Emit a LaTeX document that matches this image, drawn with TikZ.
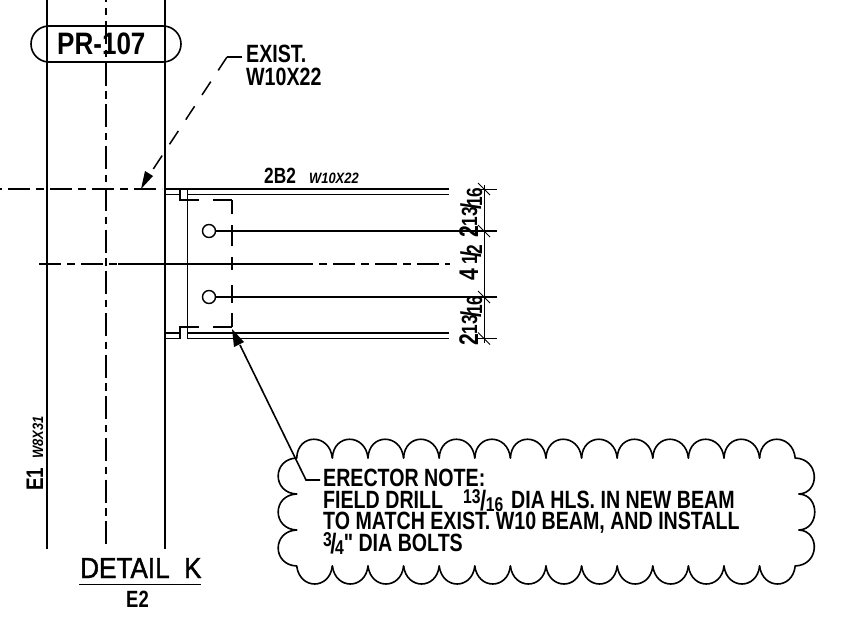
\documentclass[tikz,border=0pt]{standalone}
\usepackage{fontspec}
\usetikzlibrary{arrows.meta}
\newfontfamily\cad[FakeStretch=0.785]{Liberation Sans Bold}
\newfontfamily\cadheavy[FakeStretch=0.84]{Liberation Sans Bold}
\newfontfamily\cadlight[FakeStretch=0.9,FakeBold=1.5]{Liberation Sans}
\newfontfamily\caditalic[FakeStretch=0.86]{Liberation Sans Bold Italic}
\newcommand{\fracA}[6][-3pt]{{\fontsize{#4}{#4}\cad\raisebox{#5}{#2}\kern#1\raisebox{-2.5pt}{\fontsize{#4}{#4}\fontsize{28}{28}\cad/}\kern#1\raisebox{#6}{#3}}}
\tikzset{
  heavy/.style={line width=1.9pt,black},
  medium/.style={line width=1.6pt,black},
  thin/.style={line width=0.9pt,black},
  center/.style={line width=1.7pt,black,dash pattern=on 22pt off 6pt on 8pt off 6pt},
  lab/.style={inner sep=0pt,anchor=base west,font=\fontsize{25}{25}\cad},
  small/.style={inner sep=0pt,anchor=base west,font=\fontsize{15}{15}\caditalic},
  dimlab/.style={inner sep=0pt,anchor=base west,rotate=90,font=\fontsize{27}{27}\cad},
}
\begin{document}
\begin{tikzpicture}[x=1pt,y=-1pt]
\useasboundingbox (0,0) rectangle (849,634);
% column
\coordinate (c1t) at (47,0); \coordinate (c1b) at (47,549);
\coordinate (c2t) at (106,0); \coordinate (c2b) at (106,549);
\coordinate (c3t) at (165,0); \coordinate (c3b) at (165,549);
\draw[heavy] (c1t)--(c1b);
\draw[heavy] (c3t)--(c3b);
\draw[line width=2pt,dash pattern=on 23pt off 5.7pt on 7.3pt off 5.7pt,dash phase=20.7pt] (c2t)--(c2b);
% tag
\draw[medium] (49,26) -- (163,26) arc[start angle=90,end angle=-90,radius=18pt] -- (49,62) arc[start angle=270,end angle=90,radius=18pt] -- cycle;
\node[lab,font=\fontsize{31}{31}\cadheavy] (tag) at (57,55) {PR-107};
% beam centre lines
\draw[center,dash phase=34pt] (0,189) -- (162,189);
\draw[center] (39,264) -- (450,264);
\draw[line width=1.7pt] (118,264) -- (313,264);
% flanges
\draw[medium] (165,189)--(449,189);
\draw[medium] (165,194.5)--(180,194.5)--(180,200)--(187,200);
\draw[medium] (187,194.5)--(449,194.5);
\draw[medium] (180,189)--(180,194.5);
\draw[medium] (187.3,189)--(187.3,338.5);
\draw[medium] (165,333)--(180,333)--(180,327)--(187,327);
\draw[medium] (165,338.5)--(180,338.5)--(180,333);
\draw[medium] (187,333)--(449,333);
\draw[medium] (187,338.5)--(449,338.5);
% clip angle
\draw[line width=1.6pt,dash pattern=on 12pt off 14pt on 20pt off 5pt] (187,200)--(232,200);
\draw[line width=1.6pt,dash pattern=on 12pt off 14pt on 20pt off 5pt] (187,327)--(232,327);
\draw[line width=1.6pt,dash pattern=on 14pt off 11pt on 21pt off 11pt on 13pt off 15pt on 18pt off 10pt on 14pt off 5pt] (232,200)--(232,327);
% bolts
\node[circle,draw,line width=1.4pt,minimum size=13pt,inner sep=0pt] (b1) at (209,231) {};
\node[circle,draw,line width=1.4pt,minimum size=13pt,inner sep=0pt] (b2) at (209,297) {};
\coordinate (e1) at (497,231); \coordinate (e2) at (497,297);
\draw[heavy] (b1)--(e1);
\draw[heavy] (b2)--(e2);
% dimension
\draw[thin] (484,185)--(484,343);
\draw[thin] (477,189)--(497,189);
\draw[thin] (477,338.5)--(497,338.5);
\foreach \y in {189,231,297,338.5} \draw[thin] (478,\y-6)--(490,\y+6);
\node[dimlab] (d1) at (478,238) {2\fracA{13}{16}{22}{1pt}{-4pt}};
\node[dimlab] (d2) at (478,281) {4\,\fracA{1}{2}{22}{1pt}{-4pt}};
\node[dimlab] (d3) at (478,346) {2\fracA{13}{16}{22}{1pt}{-4pt}};
% labels top
\node[lab] (ex1) at (246,63) {EXIST.};
\node[lab] (ex2) at (246,85) {W10X22};
\node[lab,font=\fontsize{22}{22}\cad] (m) at (264,183.5) {2B2};
\node[small] (ms) at (309,183.5) {W10X22};
\coordinate (ld0) at (242,57); \coordinate (ld1) at (227,57); \coordinate (ld2) at (141,189);
\draw[heavy] (ld0)--(ld1);
\draw[line width=1.5pt,dash pattern=on 16pt off 13.5pt] (ld1)--(150,174);
\fill (ld2)--(145,171)--(153,176)--cycle;
% column label
\node[lab,rotate=90,font=\fontsize{24}{24}\cad] (e1l) at (43,491) {E1};
\node[small,rotate=90] (e1s) at (43,459) {W8X31};
% detail
\node[lab,font=\fontsize{29}{29}\cadlight] (dk) at (80,578) {DETAIL\ \ K};
\draw[heavy] (79,584.5)--(201,584.5);
\node[lab,font=\fontsize{23.5}{23.5}\cad] (e2) at (126,607.5) {E2};
% cloud
\begin{scope}[line width=1.6pt,line cap=round]
\foreach \x in {296.7,332.4,368,403.6,439.2,474.8,510.4,546,581.6,617.2,652.8,688.4,724,759.6}{
  \draw (\x,458) .. controls (\x+1,433) and (\x+33,433) .. (\x+35.6,458);
  \draw (\x,566) .. controls (\x+3,590) and (\x+33,590) .. (\x+35.6,566);
}
\foreach \y/\yy/\a/\b in {458/494/795.2/799,494/530/799/799,530/566/799/795.2}{
  \draw (296.7,\y) .. controls (272,\y+1) and (272,\yy-1) .. (296.7,\yy);
  \draw (\a,\y) .. controls (820,\y+1) and (820,\yy-1) .. (\b,\yy);
}
\end{scope}
% note
\node[lab] (n1) at (323,486) {ERECTOR NOTE:};
\node[lab] (n2) at (323,508) {FIELD DRILL};
\node[lab] (n2f) at (463,508) {\fracA[-0.5pt]{13}{16}{20}{5pt}{-3pt}};
\node[lab] (n2b) at (511,508) {DIA HLS. IN NEW BEAM};
\node[lab] (n3) at (323,529) {TO MATCH EXIST. W10 BEAM, AND INSTALL};
\node[lab] (n4) at (323,551) {\fracA[-1.5pt]{3}{4}{20}{5pt}{-3pt}" DIA BOLTS};
\coordinate (a0) at (320,480); \coordinate (a1) at (306,480); \coordinate (a2) at (232,329);
\draw[medium] (a0)--(a1)--(240,345);
\fill (a2)--(234,347)--(244,342)--cycle;
\end{tikzpicture}
\end{document}
